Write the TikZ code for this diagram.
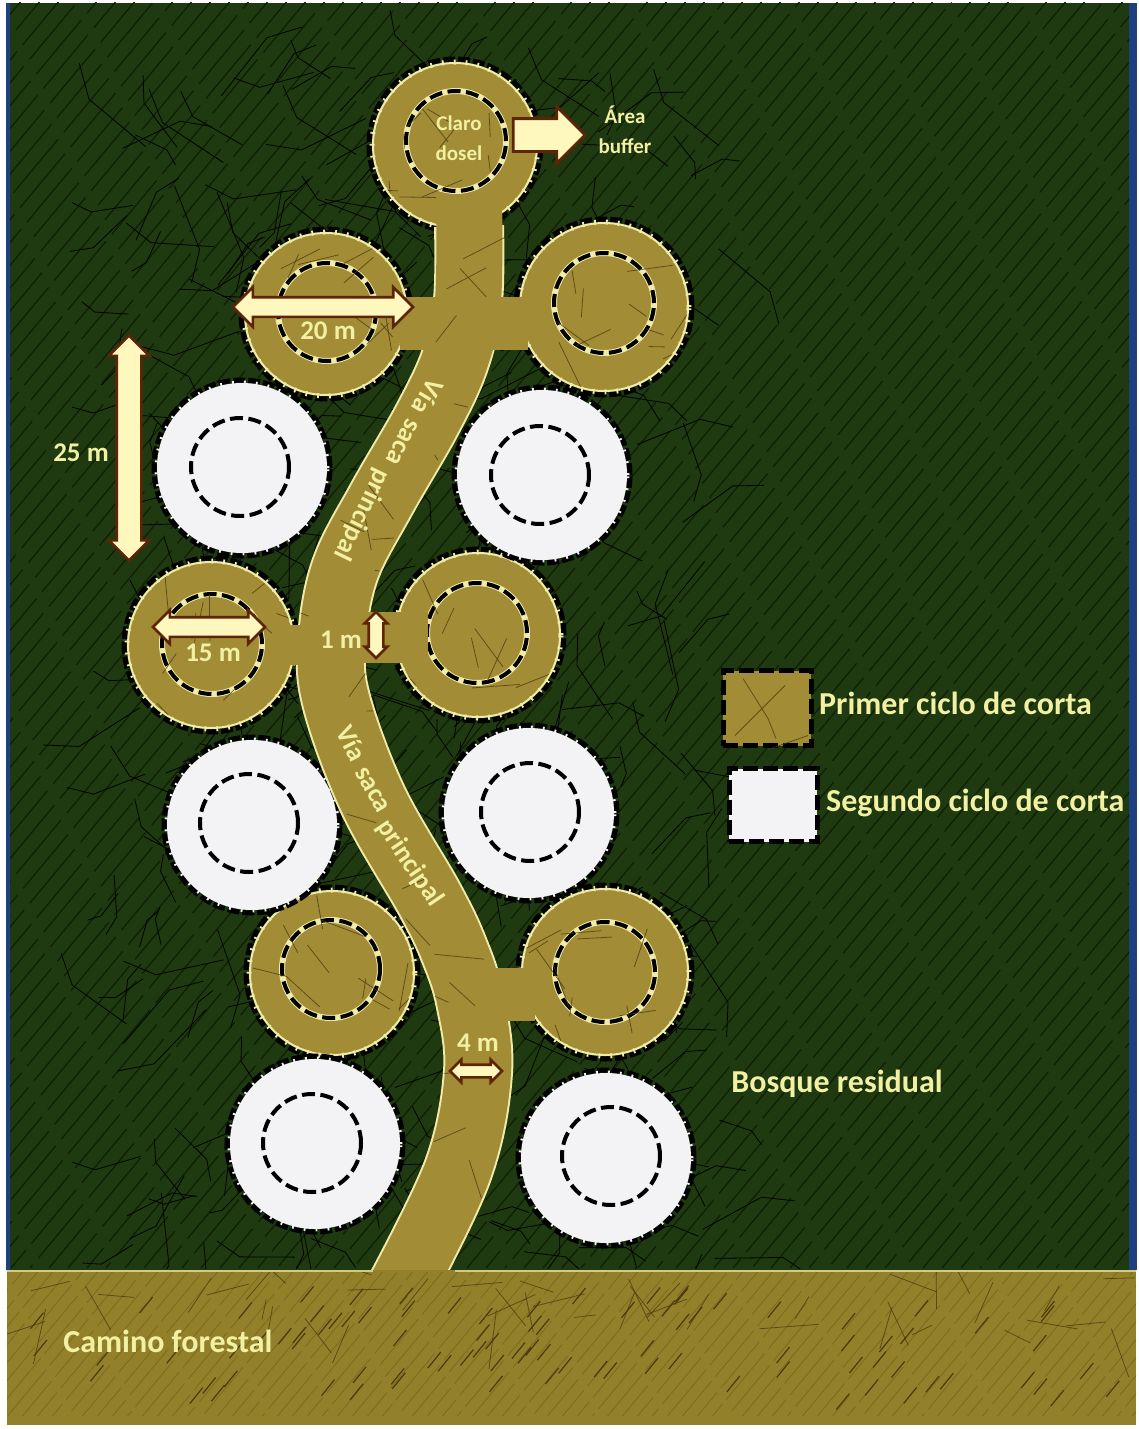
\documentclass[tikz,border=0pt]{standalone}
\usepackage{fontspec}
\setmainfont{Carlito}
\usepackage{xcolor}
\usetikzlibrary{arrows.meta,positioning,calc,shapes.arrows}
\definecolor{forest}{HTML}{1F3A10}
\definecolor{forestdark}{HTML}{0F2005}
\definecolor{frameblue}{HTML}{1E3F80}
\definecolor{gapolive}{HTML}{A28C36}
\definecolor{gapwhite}{HTML}{F3F3F6}
\definecolor{roadolive}{HTML}{93802A}
\definecolor{roadline}{HTML}{7C6B1E}
\definecolor{edgecream}{HTML}{F0EBA8}
\definecolor{twigbrown}{HTML}{4A3A10}
\definecolor{arrowfill}{HTML}{FFF8BE}
\definecolor{arrowrim}{HTML}{5E2408}
\definecolor{labelc}{HTML}{F2F0A2}
\newcommand{\cutgap}[8]{%
  \node[ringblack,minimum size=2*#5pt+6pt] (#1) at (#3,#4) {};
  \node[ringfill,#2,minimum size=2*#5pt-2pt] (#1f) at (#3,#4) {};
  \node[ringtick,#2,fill=none,minimum size=2*#5pt] (#1t) at (#3,#4) {};
  \node[coreglow,#2,fill=none,minimum size=2*#8pt] (#1g) at (#6,#7) {};
  \node[coreline,minimum size=2*#8pt] (#1c) at (#6,#7) {};
}
\newcommand{\twigs}[3]{%
  \begin{scope}
    \clip (#1,#2) circle[radius=#3pt];
    \foreach \k in {1,...,11} {
      \pgfmathsetmacro{\tx}{#1+1.7*#3*(rnd-0.5)}
      \pgfmathsetmacro{\ty}{#2+1.7*#3*(rnd-0.5)}
      \pgfmathsetmacro{\ta}{360*rnd}
      \pgfmathsetmacro{\tl}{14+36*rnd}
      \draw[twigline] (\tx,\ty) -- ++(\ta:\tl);
    }
  \end{scope}
}
\begin{document}
\begin{tikzpicture}[
  x=1pt,y=-1pt,
  ringblack/.style={circle,draw=black,line width=5pt,dash pattern=on 12pt off 3pt,inner sep=0pt,outer sep=0pt},
  ringfill/.style={circle,line width=2pt,inner sep=0pt,outer sep=0pt},
  ringtick/.style={circle,line width=5pt,dash pattern=on 1.8pt off 10pt,inner sep=0pt,outer sep=0pt},
  coreglow/.style={circle,line width=6pt,inner sep=0pt,outer sep=0pt},
  coreline/.style={circle,draw=black,line width=4pt,dash pattern=on 13pt off 5.5pt,inner sep=0pt,outer sep=0pt},
  olivegap/.style={fill=gapolive,draw=edgecream},
  whitegap/.style={fill=gapwhite,draw=gapwhite},
  twigline/.style={draw=twigbrown,line width=0.8pt,opacity=0.75},
  legbox/.style={draw=black,line width=5pt,dash pattern=on 15pt off 5pt,inner sep=0pt,outer sep=0pt},
  dimarrow/.style={double arrow,draw=arrowrim,fill=arrowfill,line width=2.6pt,inner xsep=0pt,outer sep=0pt},
  bigarrow/.style={single arrow,draw=arrowrim,fill=arrowfill,line width=2.8pt,inner xsep=0pt,outer sep=0pt},
  lab/.style={text=labelc,inner sep=0pt,align=center,font=\fontsize{27}{29}\selectfont\bfseries},
  biglab/.style={text=labelc,inner sep=0pt,font=\fontsize{32}{34}\selectfont\bfseries},
  smalllab/.style={text=labelc,inner sep=0pt,align=center,font=\fontsize{21}{30}\selectfont\bfseries},
  roadlab/.style={text=labelc,inner sep=0pt,font=\fontsize{27}{29}\selectfont\bfseries}
]
\useasboundingbox (0,0) rectangle (1139,1429);
\fill[frameblue] (6,3) rectangle (1137,1270);
\fill[forest] (10,3) rectangle (1129,1270);
\pgfmathsetseed{41}
\begin{scope}
  \clip (10,3) rectangle (1129,1268);
  \foreach \i in {0,19,...,2500} {
    \draw[forestdark,line width=1.3pt,dash pattern=on 70pt off 9pt,dash phase=\i pt] (\i-1300,1268) -- ++(1056,-1268);
  }
  \foreach \k in {1,...,340} {
    \pgfmathsetmacro{\tx}{110+610*rnd}
    \pgfmathsetmacro{\ty}{70+1190*rnd}
    \pgfmathsetmacro{\ta}{360*rnd}
    \pgfmathsetmacro{\tl}{25+50*rnd}
    \draw[black,line width=0.8pt] (\tx,\ty) -- ++(\ta:\tl) -- ++(\ta+35:0.5*\tl);
  }
\end{scope}
\cutgap{top}{olivegap}{455}{145}{83}{456}{141}{50}
\cutgap{upl}{olivegap}{326}{314}{82}{327}{312}{49}
\cutgap{upr}{olivegap}{604}{307}{85}{604}{303}{50}
\cutgap{midl}{olivegap}{211}{645}{84}{212}{644}{50}
\cutgap{midr}{olivegap}{478}{635}{83}{477}{633}{50}
\cutgap{lowl}{olivegap}{332}{973}{83}{331}{969}{49}
\cutgap{lowr}{olivegap}{605}{972}{84}{605}{972}{50}
\twigs{455}{145}{81}
\twigs{326}{314}{80}
\twigs{604}{307}{83}
\twigs{211}{645}{82}
\twigs{478}{635}{81}
\twigs{332}{973}{81}
\twigs{605}{972}{82}
\cutgap{wa}{whitegap}{242}{468}{85}{240}{467}{49}
\cutgap{wb}{whitegap}{542}{475}{85}{540}{475}{49}
\cutgap{wc}{whitegap}{252}{825}{85}{249}{823}{49}
\cutgap{wd}{whitegap}{529}{813}{85}{530}{812}{49}
\cutgap{we}{whitegap}{315}{1144}{85}{312}{1143}{49}
\cutgap{wf}{whitegap}{606}{1158}{85}{611}{1156}{49}
\draw[edgecream,line width=70pt] plot[smooth,tension=0.6] coordinates {(400,1290) (458,1170) (478,1072) (470,1000) (454,950) (430,900) (373,800) (336,700) (332,640) (345,570) (381,500) (427,420) (455,360) (468,300) (469,226)};
\draw[gapolive,line width=66pt] plot[smooth,tension=0.6] coordinates {(400,1290) (458,1170) (478,1072) (470,1000) (454,950) (430,900) (373,800) (336,700) (332,640) (345,570) (381,500) (427,420) (455,360) (468,300) (469,195)};
\fill[gapolive] (400,297) rectangle (450,350);
\fill[gapolive] (485,297) rectangle (528,350);
\fill[gapolive] (360,612) rectangle (428,663);
\fill[gapolive] (285,625) rectangle (320,665);
\fill[gapolive] (490,968) rectangle (535,1021);
\begin{scope}
  \clip plot[smooth,tension=0.6] coordinates {(375,1270) (424,1170) (444,1072) (436,1000) (420,950) (396,900) (340,800) (302,700) (298,640) (311,570) (347,500) (393,420) (421,360) (434,300) (434,195) (504,195) (503,300) (489,360) (461,420) (415,500) (379,570) (366,640) (370,700) (406,800) (464,900) (488,950) (504,1000) (512,1072) (492,1170) (455,1270)};
  \foreach \k in {1,...,60} {
    \pgfmathsetmacro{\tx}{300+210*rnd}
    \pgfmathsetmacro{\ty}{200+1070*rnd}
    \pgfmathsetmacro{\ta}{360*rnd}
    \pgfmathsetmacro{\tl}{14+36*rnd}
    \draw[twigline] (\tx,\ty) -- ++(\ta:\tl);
  }
\end{scope}
\fill[roadolive] (7,1270) rectangle (1136,1425);
\draw[edgecream!70!roadolive,line width=1.5pt] (7,1271) -- (373,1271) (455,1271) -- (1136,1271);
\begin{scope}
  \clip (7,1272) rectangle (1136,1415);
  \foreach \i in {0,15,...,1500} {
    \draw[roadline,line width=0.8pt,dash pattern=on 60pt off 6pt,dash phase=\i pt] (\i-120,1425) -- ++(130,-156);
  }
  \foreach \k in {1,...,45} {
    \pgfmathsetmacro{\tx}{20+1100*rnd}
    \pgfmathsetmacro{\ty}{1272+60*rnd}
    \pgfmathsetmacro{\ta}{360*rnd}
    \pgfmathsetmacro{\tl}{20+40*rnd}
    \draw[twigline] (\tx,\ty) -- ++(\ta:\tl);
  }
  \foreach \k in {1,...,90} {
    \pgfmathsetmacro{\tx}{20+1100*rnd}
    \pgfmathsetmacro{\ty}{1300+110*rnd}
    \draw[twigbrown,line width=1.2pt] (\tx,\ty) -- ++(13,-16);
  }
\end{scope}
\node[roadlab,rotate=-121] (via1a) at (428,397) {Vía};
\node[roadlab,rotate=-117] (via1b) at (402,442) {saca};
\node[roadlab,rotate=-116] (via1c) at (362,515) {principal};
\node[roadlab,rotate=-63] (via2a) at (352,743) {Vía};
\node[roadlab,rotate=-60] (via2b) at (372,790) {saca};
\node[roadlab,rotate=-56] (via2c) at (410,863) {principal};
\node[bigarrow,minimum height=72pt,inner ysep=15pt,single arrow head extend=12pt] (buffer) at (541,135) {};
\node[dimarrow,minimum height=180pt,inner ysep=8.5pt,double arrow head extend=10pt] (dim20) at (323,307) {};
\node[dimarrow,minimum height=225pt,inner ysep=11pt,double arrow head extend=8pt,rotate=90] (dim25) at (129,448) {};
\node[dimarrow,minimum height=112pt,inner ysep=8.5pt,double arrow head extend=7pt] (dim15) at (209,627) {};
\node[dimarrow,minimum height=46pt,inner ysep=6pt,double arrow head extend=4pt,rotate=90] (dim1) at (376,635) {};
\node[dimarrow,minimum height=52pt,inner ysep=5pt,double arrow head extend=5pt] (dim4) at (476,1071) {};
\node[smalllab] (claro) at (459,138) {Claro\\dosel};
\node[smalllab] (area) at (625,130) {Área\\buffer};
\node[lab] (t20) at (328,331) {20 m};
\node[lab] (t25) at (81,453) {25 m};
\node[lab] (t15) at (213,653) {15 m};
\node[lab] (t1) at (341,640) {1 m};
\node[lab] (t4) at (478,1043) {4 m};
\node[legbox,fill=gapolive,minimum width=88pt,minimum height=75pt] (leg1) at (767,708) {};
\node[legbox,fill=gapwhite,minimum width=88pt,minimum height=73pt] (leg2) at (773,805) {};
\draw[twigline] (leg1.north west) ++(20,8) -- ++(25,40) -- ++(8,20);
\draw[twigline] (leg1.south west) ++(12,-10) -- ++(50,-50);
\draw[twigline] (leg1.south east) ++(-3,-10) -- ++(-40,14);
\node[biglab,right=8pt of leg1,yshift=5pt] (prim) {Primer ciclo de corta};
\node[biglab,right=9pt of leg2,yshift=2pt] (seg) {Segundo ciclo de corta};
\node[biglab] (bosque) at (837,1084) {Bosque residual};
\node[biglab] (camino) at (168,1341) {Camino forestal};
\end{tikzpicture}
\end{document}
